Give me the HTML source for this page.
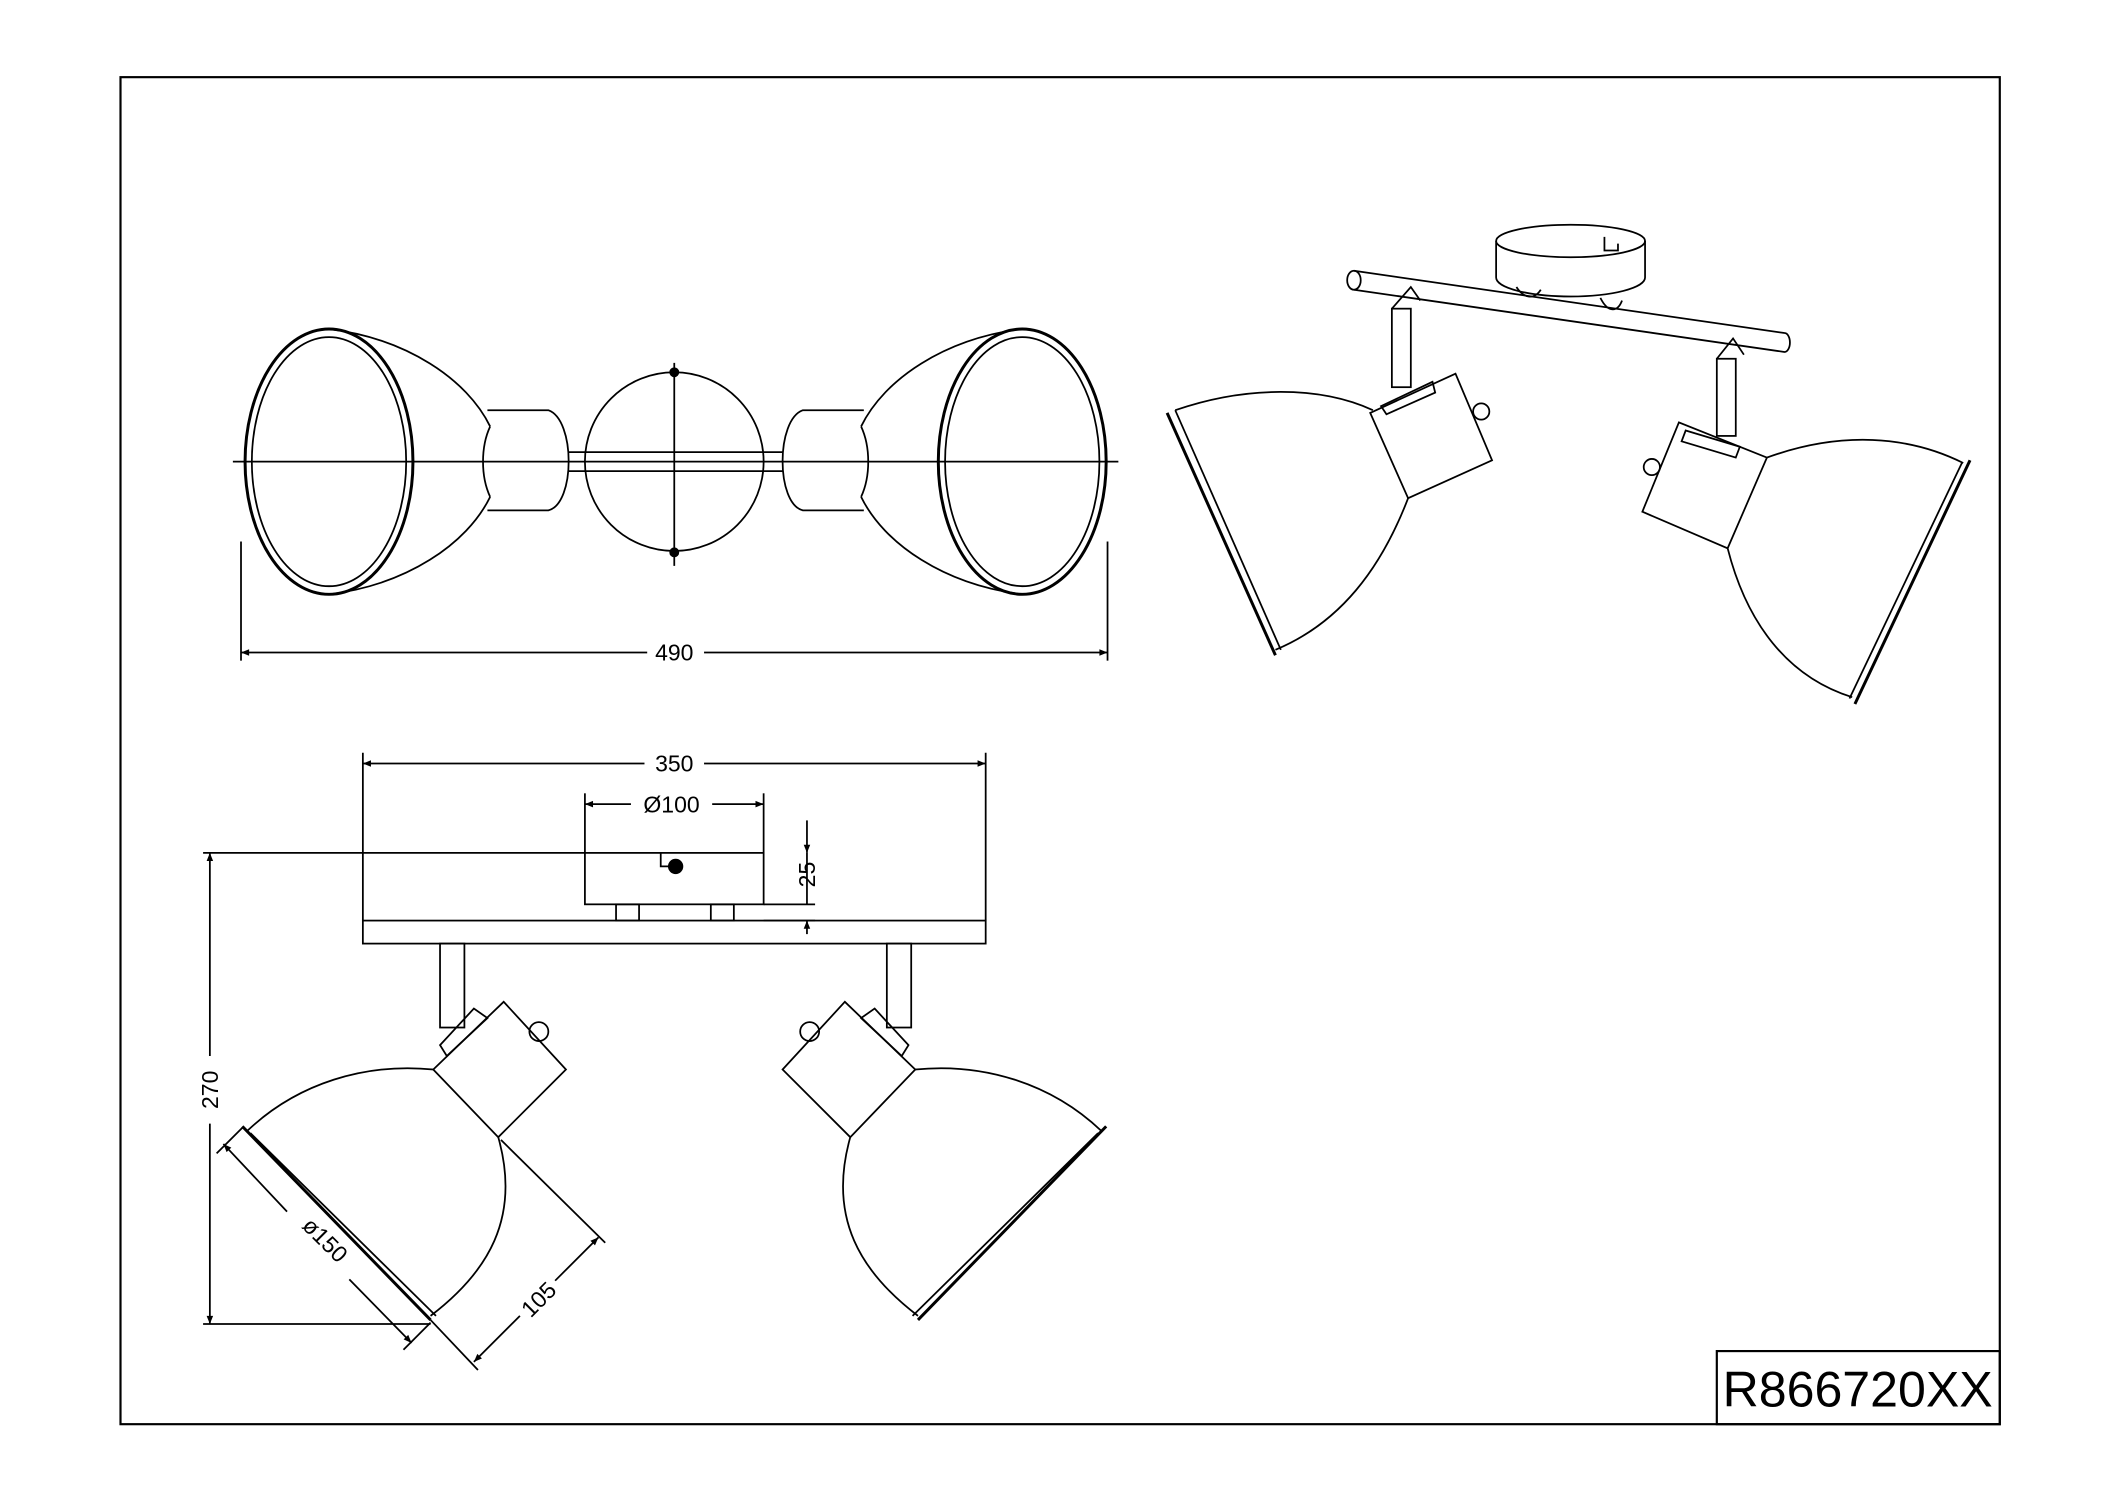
<!DOCTYPE html>
<html><head><meta charset="utf-8"><style>
html,body{margin:0;padding:0;background:#fff;}
svg{display:block;}
text{font-family:"Liberation Sans",sans-serif;fill:#000;}
</style></head><body>
<svg width="2123" height="1500" viewBox="0 0 1568 1108" preserveAspectRatio="none" xmlns="http://www.w3.org/2000/svg">
<defs>
<marker id="a" viewBox="0 0 10 10" refX="10" refY="5" markerWidth="8" markerHeight="6" orient="auto-start-reverse" markerUnits="userSpaceOnUse"><path d="M0,1 L10,5 L0,9 z" fill="#000"/></marker>
</defs>
<g fill="none" stroke="#000" stroke-width="1.3">
<rect x="89" y="57" width="1388" height="995" stroke-width="1.6"/>
<rect x="1268" y="998" width="209" height="54" stroke-width="1.6"/>

<line x1="172" y1="341" x2="826" y2="341"/>
<line x1="498" y1="268" x2="498" y2="418"/>
<ellipse cx="243" cy="341" rx="62" ry="98" stroke-width="2.2"/>
<ellipse cx="243" cy="341" rx="57" ry="92"/>
<path d="M243,243 C300,250 345,280 362,315 M243,439 C300,432 345,402 362,367"/>
<path d="M362,315 C355,330 355,352 362,367"/>
<path d="M360,303 L405,303 C425,310 425,372 405,377 L360,377"/>
<circle cx="498" cy="341" r="66"/>
<line x1="420" y1="334" x2="578" y2="334"/><line x1="420" y1="348" x2="578" y2="348"/>
<circle cx="498" cy="275" r="3" fill="#000"/><circle cx="498" cy="408" r="3" fill="#000"/>
<ellipse cx="755" cy="341" rx="62" ry="98" stroke-width="2.2"/>
<ellipse cx="755" cy="341" rx="57" ry="92"/>
<path d="M755,243 C698,250 653,280 636,315 M755,439 C698,432 653,402 636,367"/>
<path d="M636,315 C643,330 643,352 636,367"/>
<path d="M638,303 L593,303 C573,310 573,372 593,377 L638,377"/>
<line x1="178" y1="400" x2="178" y2="488"/><line x1="818" y1="400" x2="818" y2="488"/>
<line x1="178" y1="482" x2="478" y2="482" marker-start="url(#a)"/>
<line x1="520" y1="482" x2="818" y2="482" marker-end="url(#a)"/>

<line x1="268" y1="556" x2="268" y2="680"/><line x1="728" y1="556" x2="728" y2="680"/>
<line x1="268" y1="564" x2="476" y2="564" marker-start="url(#a)"/>
<line x1="520" y1="564" x2="728" y2="564" marker-end="url(#a)"/>
<line x1="432" y1="586" x2="432" y2="630"/><line x1="564" y1="586" x2="564" y2="630"/>
<line x1="432" y1="594" x2="466" y2="594" marker-start="url(#a)"/>
<line x1="526" y1="594" x2="564" y2="594" marker-end="url(#a)"/>
<rect x="432" y="630" width="132" height="38"/>
<line x1="150" y1="630" x2="432" y2="630"/>
<path d="M488,630 L488,640 L494,640"/><circle cx="499" cy="640" r="5" fill="#000"/>
<rect x="455" y="668" width="17" height="12"/><rect x="525" y="668" width="17" height="12"/>
<line x1="564" y1="668" x2="602" y2="668"/><line x1="564" y1="680" x2="602" y2="680"/>
<line x1="596" y1="606" x2="596" y2="630" marker-end="url(#a)"/>
<line x1="596" y1="630" x2="596" y2="668"/>
<line x1="596" y1="690" x2="596" y2="680" marker-end="url(#a)"/>
<rect x="268" y="680" width="460" height="17"/>
<rect x="325" y="697" width="18" height="62"/><rect x="655" y="697" width="18" height="62"/>
<path d="M320,790 L368,840 L418,790 L372,740 Z"/>
<circle cx="398" cy="762" r="7"/>
<path d="M330,780 L360,752 L350,745 L325,772 Z"/>
<path d="M183,835 C220,800 270,785 320,790"/>
<path d="M368,840 C385,900 360,940 318,972"/>
<line x1="179" y1="832" x2="318" y2="975" stroke-width="2.2"/>
<line x1="185" y1="837" x2="322" y2="972"/>
<path d="M676,790 L628,840 L578,790 L624,740 Z"/>
<circle cx="598" cy="762" r="7"/>
<path d="M666,780 L636,752 L646,745 L671,772 Z"/>
<path d="M813,835 C776,800 726,785 676,790"/>
<path d="M628,840 C611,900 636,940 678,972"/>
<line x1="817" y1="832" x2="678" y2="975" stroke-width="2.2"/>
<line x1="811" y1="837" x2="674" y2="972"/>
<line x1="150" y1="978" x2="318" y2="978"/>
<line x1="155" y1="630" x2="155" y2="780" marker-start="url(#a)"/>
<line x1="155" y1="830" x2="155" y2="978" marker-end="url(#a)"/>
<line x1="160" y1="852" x2="180" y2="832"/><line x1="298" y1="997" x2="318" y2="977"/>
<line x1="165" y1="845" x2="212" y2="895" marker-start="url(#a)"/>
<line x1="258" y1="945" x2="304" y2="992" marker-end="url(#a)"/>
<line x1="318" y1="975" x2="353" y2="1012"/><line x1="370" y1="842" x2="447" y2="918"/>
<line x1="350" y1="1006" x2="384" y2="972" marker-start="url(#a)"/>
<line x1="410" y1="946" x2="442" y2="914" marker-end="url(#a)"/>

<path d="M1105,178 L1105,205 A55,14 0 0 0 1215,205 L1215,178"/>
<ellipse cx="1160" cy="178" rx="55" ry="12"/>
<path d="M1185,175 L1185,185 L1195,185 L1195,180"/>
<path d="M1000,200 L1318,246 A4,7 0 0 1 1318,260 L1000,214"/>
<ellipse cx="1000" cy="207" rx="5" ry="7"/>
<path d="M1120,212 C1125,220 1133,222 1138,214 M1182,220 C1188,232 1195,230 1198,222"/>
<rect x="1028" y="228" width="14" height="58"/>
<path d="M1028,228 L1042,212 L1049,222"/>
<path d="M1012,305 L1040,368 L1102,340 L1075,276 Z"/>
<path d="M1020,300 L1058,282 L1060,290 L1024,306 Z"/>
<circle cx="1094" cy="304" r="6"/>
<path d="M868,303 C920,285 975,285 1014,303"/>
<path d="M1040,368 C1020,420 990,460 942,480"/>
<line x1="862" y1="305" x2="942" y2="484" stroke-width="2.2"/>
<line x1="868" y1="303" x2="946" y2="480"/>
<rect x="1268" y="265" width="14" height="57"/>
<path d="M1268,265 L1280,250 L1288,262"/>
<path d="M1213,378 L1276,405 L1305,338 L1240,312 Z"/>
<path d="M1245,318 L1285,330 L1282,338 L1242,326 Z"/>
<circle cx="1220" cy="345" r="6"/>
<path d="M1305,338 C1360,318 1410,322 1450,342"/>
<path d="M1276,405 C1290,460 1320,500 1368,515"/>
<line x1="1455" y1="340" x2="1370" y2="520" stroke-width="2.2"/>
<line x1="1449" y1="342" x2="1366" y2="516"/>
</g>
<g font-size="17">
<text x="498" y="488" text-anchor="middle">490</text>
<text x="498" y="570" text-anchor="middle">350</text>
<text x="496" y="600" text-anchor="middle">Ø100</text>
<text transform="translate(602,646) rotate(-90)" text-anchor="middle">25</text>
<text transform="translate(161,805) rotate(-90)" text-anchor="middle">270</text>
<text transform="translate(236,920) rotate(45)" text-anchor="middle">ø150</text>
<text transform="translate(402,964) rotate(-45)" text-anchor="middle">105</text>
</g>
<text x="1372" y="1039" font-size="37" text-anchor="middle">R866720XX</text>
</svg>
</body></html>
